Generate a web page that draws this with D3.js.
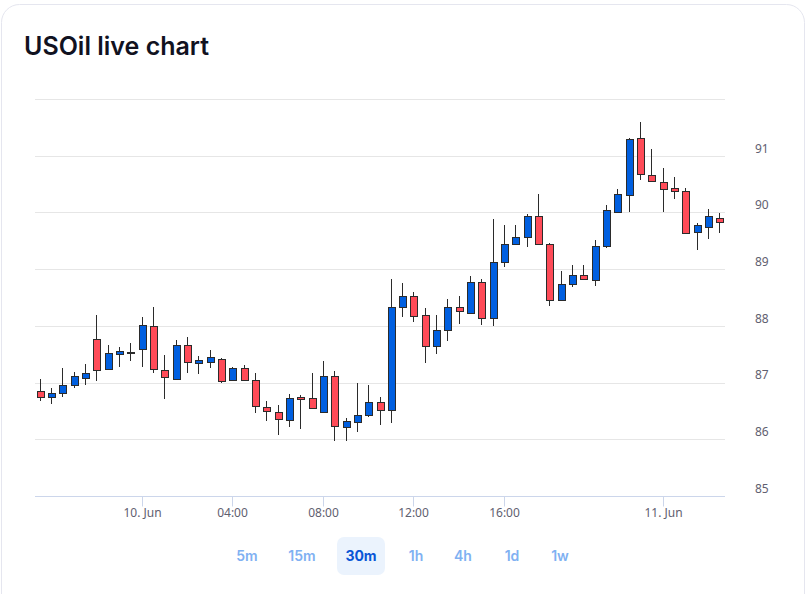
<!DOCTYPE html>
<html>
<head>
<meta charset="utf-8">
<script src="https://cdn.jsdelivr.net/npm/d3@7"></script>
<style>
  html, body { margin: 0; padding: 0; background: #ffffff; }
  svg { display: block; }
</style>
</head>
<body>
<svg id="chart" width="809" height="594"></svg>
<script>
// 30 minute candles, ordinal (market break between 16:30 and 18:00 is skipped)
const times = [
  "09 Jun 19:30", "09 Jun 20:00", "09 Jun 20:30", "09 Jun 21:00", "09 Jun 21:30",
  "09 Jun 22:00", "09 Jun 22:30", "09 Jun 23:00", "09 Jun 23:30",
  "10 Jun 00:00", "10 Jun 00:30", "10 Jun 01:00", "10 Jun 01:30", "10 Jun 02:00",
  "10 Jun 02:30", "10 Jun 03:00", "10 Jun 03:30", "10 Jun 04:00", "10 Jun 04:30",
  "10 Jun 05:00", "10 Jun 05:30", "10 Jun 06:00", "10 Jun 06:30", "10 Jun 07:00",
  "10 Jun 07:30", "10 Jun 08:00", "10 Jun 08:30", "10 Jun 09:00", "10 Jun 09:30",
  "10 Jun 10:00", "10 Jun 10:30", "10 Jun 11:00", "10 Jun 11:30", "10 Jun 12:00",
  "10 Jun 12:30", "10 Jun 13:00", "10 Jun 13:30", "10 Jun 14:00", "10 Jun 14:30",
  "10 Jun 15:00", "10 Jun 15:30", "10 Jun 16:00", "10 Jun 16:30", "10 Jun 18:00",
  "10 Jun 18:30", "10 Jun 19:00", "10 Jun 19:30", "10 Jun 20:00", "10 Jun 20:30",
  "10 Jun 21:00", "10 Jun 21:30", "10 Jun 22:00", "10 Jun 22:30", "10 Jun 23:00",
  "10 Jun 23:30", "11 Jun 00:00", "11 Jun 00:30", "11 Jun 01:00", "11 Jun 01:30",
  "11 Jun 02:00", "11 Jun 02:30"
];

const opens = [
  86.85, 86.75, 86.82, 86.95, 87.08, 87.76, 87.24, 87.50, 87.53, 87.60,
  88.00, 87.23, 87.06, 87.66, 87.34, 87.36, 87.42, 87.05, 87.25, 87.05,
  86.57, 86.48, 86.34, 86.75, 86.73, 86.48, 87.11, 86.21, 86.31, 86.43,
  86.66, 86.51, 88.33, 88.52, 88.20, 87.65, 87.92, 88.33, 88.23, 88.77,
  88.13, 89.13, 89.45, 89.57, 89.93, 89.45, 88.46, 88.73, 88.90, 88.81,
  89.40, 90.01, 90.30, 91.31, 90.66, 90.54, 90.43, 90.38, 89.66, 89.74,
  89.91
];
const highs = [
  87.06, 86.90, 87.25, 87.19, 87.33, 88.19, 87.67, 87.62, 87.69, 88.16,
  88.33, 87.49, 87.75, 87.80, 87.47, 87.57, 87.43, 87.27, 87.31, 87.16,
  86.68, 86.60, 86.80, 86.78, 87.17, 87.38, 87.21, 86.38, 87.00, 86.96,
  86.74, 88.82, 88.76, 88.60, 88.31, 88.19, 88.47, 88.53, 88.88, 88.82,
  89.88, 89.78, 89.78, 89.97, 90.33, 89.46, 88.97, 89.07, 89.07, 89.51,
  90.13, 90.41, 91.32, 91.59, 91.12, 90.78, 90.62, 90.43, 89.81, 90.06,
  89.99
];
const lows = [
  86.68, 86.62, 86.74, 86.90, 86.96, 87.03, 87.24, 87.28, 87.38, 87.28,
  87.16, 86.71, 87.06, 87.16, 87.15, 87.26, 86.99, 87.05, 87.05, 86.47,
  86.33, 86.07, 86.22, 86.19, 86.55, 86.48, 85.97, 85.97, 86.13, 86.39,
  86.26, 86.29, 88.15, 88.06, 87.34, 87.51, 87.74, 88.03, 88.23, 88.01,
  87.99, 89.04, 89.45, 89.39, 89.42, 88.35, 88.46, 88.69, 88.83, 88.71,
  89.38, 90.01, 90.01, 90.57, 90.53, 90.01, 90.23, 89.62, 89.34, 89.53,
  89.63
];
const closes = [
  86.75, 86.81, 86.95, 87.11, 87.17, 87.22, 87.53, 87.55, 87.54, 88.02,
  87.24, 87.09, 87.66, 87.36, 87.39, 87.45, 87.03, 87.25, 87.05, 86.59,
  86.49, 86.35, 86.73, 86.71, 86.55, 87.11, 86.23, 86.32, 86.43, 86.66,
  86.51, 88.33, 88.52, 88.18, 87.65, 87.92, 88.33, 88.26, 88.77, 88.13,
  89.13, 89.45, 89.57, 89.93, 89.45, 88.46, 88.73, 88.89, 88.83, 89.41,
  90.04, 90.32, 91.30, 90.68, 90.56, 90.41, 90.37, 89.63, 89.77, 89.93,
  89.84
];

const yTicks = [85, 86, 87, 88, 89, 90, 91, 92];
const xTickTimes = ["10 Jun 00:00", "10 Jun 04:00", "10 Jun 08:00", "10 Jun 12:00", "10 Jun 16:00", "11 Jun 00:00"];
const xTickLabels = ["10. Jun", "04:00", "08:00", "12:00", "16:00", "11. Jun"];
const ranges = ["5m", "15m", "30m", "1h", "4h", "1d", "1w"];
const activeRange = "30m";

const candles = times.map((t, i) => ({t, o: opens[i], h: highs[i], l: lows[i], c: closes[i]}));

const svg = d3.select("#chart");
const labelFont = "'Noto Sans', 'DejaVu Sans', sans-serif";

// card
svg.append("rect")
  .attr("x", 1.5).attr("y", 4.5)
  .attr("width", 803).attr("height", 620)
  .attr("rx", 18)
  .attr("fill", "#ffffff")
  .attr("stroke", "#e5e6ef");

// title
svg.append("text")
  .attr("x", 24).attr("y", 55)
  .attr("font-family", "Inter, 'Noto Sans', sans-serif")
  .attr("font-weight", 600)
  .attr("font-size", 25)
  .attr("fill", "#11121f")
  .text("USOil live chart");

// scales
const x = d3.scaleBand()
  .domain(times)
  .range([34, 725]);

const y = d3.scaleLinear()
  .domain([85, 92])
  .range([496, 99]);

const cx = t => Math.round(x(t) + x.bandwidth() / 2);

// grid
svg.append("g")
  .selectAll("line")
  .data(yTicks.filter(d => d !== 85))
  .join("line")
  .attr("x1", 35).attr("x2", 725)
  .attr("y1", d => Math.round(y(d)) + 0.5)
  .attr("y2", d => Math.round(y(d)) + 0.5)
  .attr("stroke", "#e6e6e6");

// y axis labels on the right
const yAxis = svg.append("g")
  .attr("transform", "translate(755,0)")
  .call(d3.axisRight(y)
    .tickValues(yTicks.filter(d => d !== 92))
    .tickFormat(d3.format("d"))
    .tickSize(0).tickPadding(0));
yAxis.select(".domain").remove();
yAxis.selectAll("text")
  .attr("dy", "-0.3em")
  .attr("font-family", labelFont)
  .attr("font-size", 12)
  .attr("fill", "#5f6070");

// x axis
const xAxis = svg.append("g")
  .attr("transform", "translate(0,496.5)")
  .call(d3.axisBottom(x)
    .tickValues(xTickTimes)
    .tickFormat(d => xTickLabels[xTickTimes.indexOf(d)])
    .tickSizeInner(10)
    .tickSizeOuter(0)
    .tickPadding(2));
xAxis.select(".domain")
  .attr("d", "M35,0H725")
  .attr("stroke", "#ccd6eb");
xAxis.selectAll(".tick line").attr("stroke", "#ccd6eb");
xAxis.selectAll(".tick")
  .attr("transform", d => `translate(${cx(d) + 0.5},0)`);
xAxis.selectAll("text")
  .attr("font-family", labelFont)
  .attr("font-size", 12)
  .attr("fill", "#5f6070");

// candles
const g = svg.append("g");
const candle = g.selectAll("g")
  .data(candles)
  .join("g");

candle.append("line")
  .attr("x1", d => cx(d.t) + 0.5)
  .attr("x2", d => cx(d.t) + 0.5)
  .attr("y1", d => Math.round(y(d.h)))
  .attr("y2", d => Math.round(y(d.l)))
  .attr("stroke", "#2b2b2b");

candle.append("rect")
  .attr("x", d => cx(d.t) - 3 + 0.5)
  .attr("width", 7)
  .attr("y", d => Math.round(y(Math.max(d.o, d.c))) + 0.5)
  .attr("height", d => Math.max(1, Math.round(y(Math.min(d.o, d.c))) - Math.round(y(Math.max(d.o, d.c)))))
  .attr("fill", d => d.c >= d.o ? "#005fe0" : "#ff4b58")
  .attr("stroke", "#2b2b2b");

// range buttons, laid out by label width like the original toolbar
const btnCenters = [247, 302, 361, 416, 463, 512, 560];

const btn = svg.append("g")
  .selectAll("g")
  .data(ranges)
  .join("g")
  .attr("transform", (d, i) => `translate(${btnCenters[i]},556)`);

btn.filter(d => d === activeRange)
  .append("rect")
  .attr("x", -24).attr("y", -19)
  .attr("width", 48).attr("height", 38)
  .attr("rx", 7)
  .attr("fill", "#ebf3fd");

btn.append("text")
  .attr("text-anchor", "middle")
  .attr("dy", "0.35em")
  .attr("font-family", "Inter, 'Noto Sans', sans-serif")
  .attr("font-weight", d => d === activeRange ? 700 : 600)
  .attr("font-size", 14)
  .attr("fill", d => d === activeRange ? "#0a56d6" : "#80b1f2")
  .text(d => d);
</script>
</body>
</html>
